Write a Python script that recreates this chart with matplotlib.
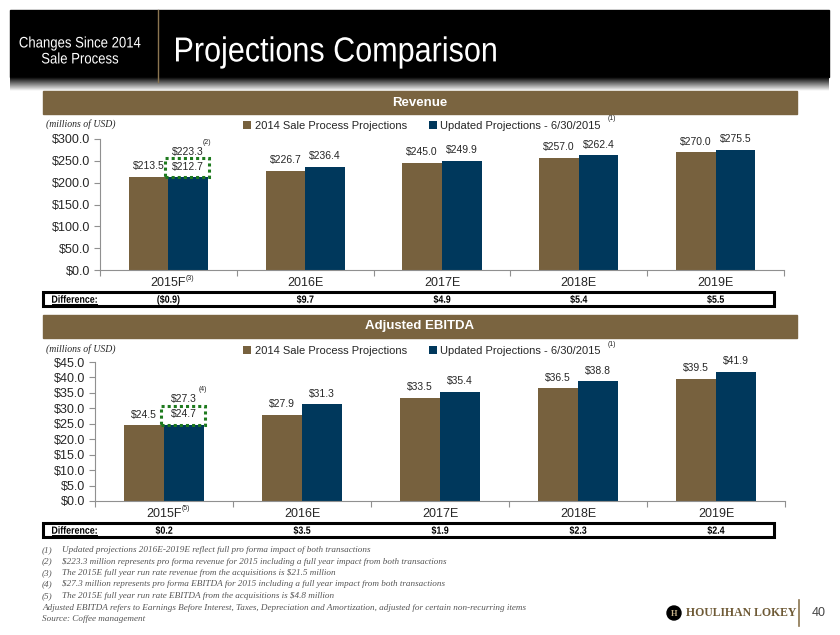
# Realiza a importação de módulos necessários
import numpy as np
import matplotlib
matplotlib.use('Agg')
import matplotlib.pyplot as plt
from matplotlib.patches import Rectangle, Circle, PathPatch
from matplotlib.textpath import TextPath
from matplotlib.font_manager import FontProperties
from matplotlib.transforms import Affine2D




# --------> Parte 0: Dados do gráfico
# --
categorias = ['2015F', '2016E', '2017E', '2018E', '2019E']
series = ['2014 Sale Process Projections', 'Updated Projections - 6/30/2015']

receita_2014 = [213.5, 226.7, 245.0, 257.0, 270.0]
receita_nova = [212.7, 236.4, 249.9, 262.4, 275.5]
receita_dif = [-0.9, 9.7, 4.9, 5.4, 5.5]
receita_pro_forma = 223.3

ebitda_2014 = [24.5, 27.9, 33.5, 36.5, 39.5]
ebitda_nova = [24.7, 31.3, 35.4, 38.8, 41.9]
ebitda_dif = [0.2, 3.5, 1.9, 2.3, 2.4]
ebitda_pro_forma = 27.3

notas = [
    ('(1)', 'Updated projections 2016E-2019E reflect full pro forma impact of both transactions'),
    ('(2)', '$223.3 million represents pro forma revenue for 2015 including a full year impact from both transactions'),
    ('(3)', 'The 2015E full year run rate revenue from the acquisitions is $21.5 million'),
    ('(4)', '$27.3 million represents pro forma EBITDA for 2015 including a full year impact from both transactions'),
    ('(5)', 'The 2015E full year run rate EBITDA from the acquisitions is $4.8 million'),
]
nota_ebitda = 'Adjusted EBITDA refers to Earnings Before Interest, Taxes, Depreciation and Amortization, adjusted for certain non-recurring items'
nota_fonte = 'Source: Coffee management'
# --
# --------> Parte 0: Dados do gráfico




# --------> Parte 1: Configuração de estilo
# --
W, H = 840, 635
MARROM = '#77613E'
AZUL = '#00385C'
FAIXA = '#7A6440'
TEXTO = '#262626'
NOTA = '#555555'

plt.rcParams['font.family'] = ['Liberation Sans', 'DejaVu Sans']

fig = plt.figure(figsize=(W / 100, H / 100), dpi=100)

# Eixo de fundo em pixels, para cabeçalho, faixas e notas
fundo = fig.add_axes([0, 0, 1, 1])
fundo.set_xlim(0, W)
fundo.set_ylim(H, 0)
fundo.axis('off')


def eixo_px(esq, topo, dir, base):
    return fig.add_axes([esq / W, 1 - base / H, (dir - esq) / W, (base - topo) / H])


def dinheiro(v):
    return f'(${abs(v):.1f})' if v < 0 else f'${v:.1f}'


# Não há fonte estreita instalada: comprime o texto na horizontal
def texto_estreito(x, y, s, tam, cor='white', peso='normal', ha='left', esc=0.86, z=3):
    fp = FontProperties(family='Liberation Sans', weight=peso)
    tp = TextPath((0, 0), s, size=tam, prop=fp)
    bb = tp.get_extents()
    k = 100 / 72
    larg = bb.width * esc * k
    dx = {'left': 0, 'center': -larg / 2, 'right': -larg}[ha]
    y_base = y + 0.716 * tam * k / 2
    tr = Affine2D().translate(-bb.x0, 0).scale(esc * k, -k).translate(x + dx, y_base)
    fundo.add_patch(PathPatch(tr.transform_path(tp), facecolor=cor, edgecolor='none', zorder=z))
# --
# --------> Parte 1: Configuração de estilo




# --------> Parte 2: Cabeçalho
# --
fundo.add_patch(Rectangle((10, 10), 819, 67, color='black', zorder=1))
grad = np.linspace(0.0, 1.0, 50).reshape(-1, 1)
fundo.imshow(grad, cmap='gray', vmin=0, vmax=1, aspect='auto',
             extent=[10, 829, 91, 77], zorder=1)
fundo.set_xlim(0, W)
fundo.set_ylim(H, 0)
fundo.plot([158, 158], [10, 82], color='#8B7550', lw=1, zorder=2)
texto_estreito(80, 42, 'Changes Since 2014', 11, ha='center')
texto_estreito(80, 58, 'Sale Process', 11, ha='center')
texto_estreito(176, 49, 'Projections Comparison', 25, esc=0.88)
# --
# --------> Parte 2: Cabeçalho




# --------> Parte 3: Gráficos de barras
# --
def grafico(titulo, faixa_y, px, ymax, passo, v14, vnova, difs, pro_forma,
            retangulo, sup_pf, sup_cat, caixa_y, leg_y):
    esq, topo, dir, base = px

    # Faixa marrom com o título
    fundo.add_patch(Rectangle((43, faixa_y), 754, 23, color=FAIXA, zorder=1))
    fundo.text(420, faixa_y + 11.5, titulo, color='white', fontsize=9.5,
               fontweight='bold', ha='center', va='center', zorder=3)
    fundo.text(46, leg_y - 2, '(millions of USD)', fontsize=7, style='italic',
               family=['Liberation Serif'], color=TEXTO, va='center')

    ax = eixo_px(esq, topo, dir, base)
    ax.set_facecolor('none')
    x = np.arange(len(categorias))
    w = 0.29
    b1 = ax.bar(x - w / 2, v14, w, color=MARROM, label=series[0], zorder=2)
    b2 = ax.bar(x + w / 2, vnova, w, color=AZUL, label=series[1], zorder=2)
    for b in (b1, b2):
        ax.bar_label(b, labels=[dinheiro(v) for v in b.datavalues], padding=4,
                     fontsize=7.5, color=TEXTO)

    ax.set_xlim(-0.5, len(categorias) - 0.5)
    ax.set_ylim(0, ymax)
    ax.set_yticks(np.arange(0, ymax + passo / 2, passo))
    ax.yaxis.set_major_formatter(lambda v, p: f'${v:.1f}')
    ax.set_xticks(np.arange(-0.5, len(categorias), 1))
    ax.set_xticklabels([])
    ax.set_xticks(x, minor=True)
    ax.set_xticklabels(categorias, minor=True)
    ax.tick_params(axis='x', which='major', length=4, color='#909090')
    ax.tick_params(axis='x', which='minor', length=0, pad=5, labelsize=9, labelcolor=TEXTO)
    ax.tick_params(axis='y', length=4, color='#909090', labelsize=9, labelcolor=TEXTO, pad=3)
    for lado in ('top', 'right'):
        ax.spines[lado].set_visible(False)
    for lado in ('left', 'bottom'):
        ax.spines[lado].set_color('#909090')

    # Legenda
    ax.legend(handles=[b1, b2], ncol=2, loc='center',
              bbox_to_anchor=((422 - esq) / (dir - esq), (base - leg_y) / (base - topo)),
              frameon=False, handlelength=0.7, handleheight=0.7, handletextpad=0.3,
              columnspacing=2.0, fontsize=8, labelcolor=TEXTO, borderaxespad=0)
    fundo.text(612, leg_y - 7, '(1)', fontsize=5, color=TEXTO, ha='center', va='center')

    # Retângulo pontilhado e valor pro forma de 2015
    r0, r1 = retangulo
    ax.add_patch(Rectangle((-0.025, r0), 0.32, r1 - r0, fill=False, edgecolor='#1E7A1E',
                           lw=2.2, linestyle=(0, (1, 1)), zorder=4, clip_on=False))
    ax.annotate(dinheiro(pro_forma), xy=(w / 2, r1), xytext=(0, 1), textcoords='offset points',
                ha='center', va='bottom', fontsize=7.5, color=TEXTO, annotation_clip=False)
    ax.annotate(sup_pf, xy=(w / 2 + 0.14, r1), xytext=(0, 9), textcoords='offset points',
                ha='center', va='bottom', fontsize=5, color=TEXTO, annotation_clip=False)
    trans = ax.get_xaxis_transform()
    ax.text(0.125, -8 / (base - topo), sup_cat, transform=trans, fontsize=5,
            color=TEXTO, ha='left', va='center')

    # Caixa de diferenças
    fundo.add_patch(Rectangle((43, caixa_y - 7), 731, 14, facecolor='white',
                              edgecolor='black', lw=2.2, zorder=2))
    texto_estreito(52, caixa_y, 'Difference:', 7.5, cor='black', peso='bold', esc=0.85)
    fundo.plot([52, 97], [caixa_y + 4.5, caixa_y + 4.5], color='black', lw=0.7, zorder=3)
    xmin, xmax = ax.get_xlim()
    for i, d in enumerate(difs):
        xp = esq + (x[i] - xmin) / (xmax - xmin) * (dir - esq)
        texto_estreito(xp, caixa_y, dinheiro(d), 7.5, cor='black', peso='bold',
                       ha='center', esc=0.85)
    return ax


grafico('Revenue', 91, (100, 139, 784, 270), 300, 50, receita_2014, receita_nova,
        receita_dif, receita_pro_forma, (213, 256), '(2)', '(3)', 299, 126)
grafico('Adjusted EBITDA', 315, (95, 362, 785, 501), 45, 5, ebitda_2014, ebitda_nova,
        ebitda_dif, ebitda_pro_forma, (24.6, 30.8), '(4)', '(5)', 530, 351)
# --
# --------> Parte 3: Gráficos de barras




# --------> Parte 4: Notas de rodapé e logotipo
# --
y = 550
for num, txt in notas:
    fundo.text(42, y, num, fontsize=6.6, style='italic', family=['Liberation Serif'],
               color=NOTA, va='center')
    fundo.text(62, y, txt, fontsize=6.6, style='italic', family=['Liberation Serif'],
               color=NOTA, va='center')
    y += 11.5
fundo.text(42, y, nota_ebitda, fontsize=6.6, style='italic', family=['Liberation Serif'],
           color=NOTA, va='center')
fundo.text(42, y + 11.5, nota_fonte, fontsize=6.6, style='italic', family=['Liberation Serif'],
           color=NOTA, va='center')

fundo.add_patch(Circle((674, 613), 7, color='black', zorder=3))
fundo.text(674, 613.5, 'H', color='#C8B48A', fontsize=6, fontweight='bold',
           family=['Liberation Serif'], ha='center', va='center', zorder=4)
fundo.text(686, 613, 'HOULIHAN LOKEY', color='#6E5A36', fontsize=8.5, fontweight='bold',
           family=['Liberation Serif'], ha='left', va='center', zorder=3)
fundo.plot([799, 799], [600, 626], color='#8B7550', lw=1.2)
fundo.text(812, 613, '40', color='#444444', fontsize=9, ha='left', va='center')
# --
# --------> Parte 4: Notas de rodapé e logotipo

fig.savefig('out.png', dpi=100)
